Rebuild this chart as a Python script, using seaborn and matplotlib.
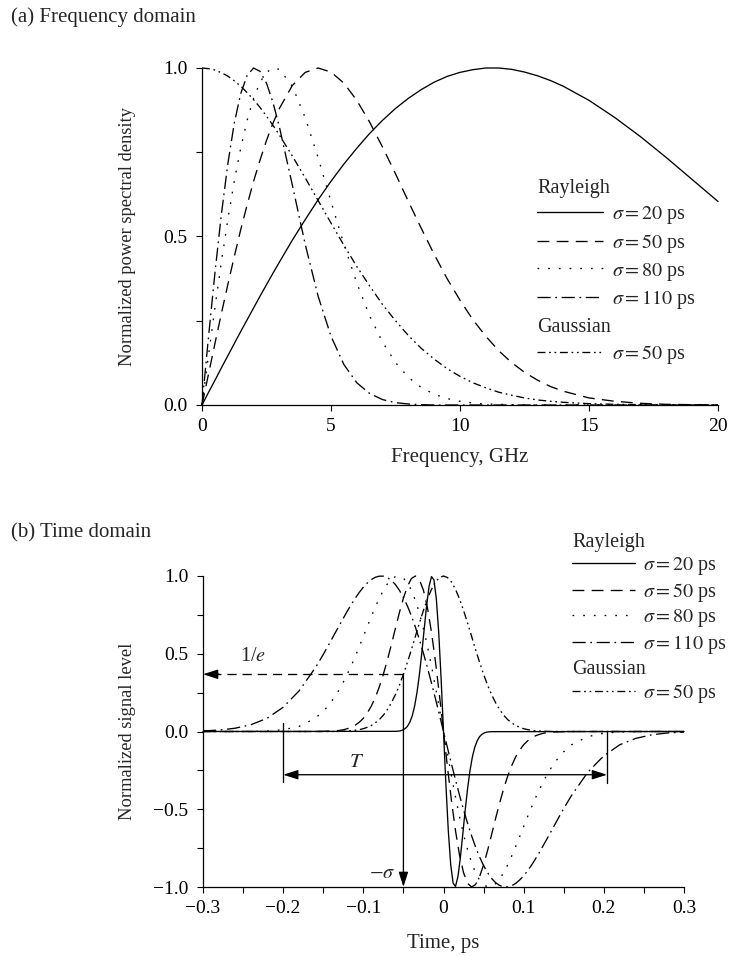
import matplotlib
matplotlib.use("Agg")
import matplotlib.pyplot as plt
from matplotlib.lines import Line2D
from matplotlib.ticker import FixedLocator, FixedFormatter
import seaborn as sns
import pandas as pd

# ---------------- data: (a) frequency domain ----------------
freq = [0, 0.25, 0.5, 0.75, 1, 1.25, 1.5, 1.75, 2, 2.25, 2.5, 2.75, 3,
        3.5, 4, 4.5, 5, 5.5, 6, 6.5, 7, 7.5, 8,
        8.5, 9, 9.5, 10, 10.5, 11, 11.5, 12, 12.5, 13, 13.5,
        14, 15, 16, 17, 18, 19, 20]
psd_r20 = [0, 0.037, 0.073, 0.110, 0.146, 0.182, 0.218, 0.253, 0.288, 0.323, 0.357, 0.391, 0.424,
           0.489, 0.550, 0.609, 0.664, 0.715, 0.762, 0.806, 0.845, 0.880, 0.910,
           0.936, 0.958, 0.975, 0.987, 0.995, 1.000, 1.000, 0.996, 0.988, 0.977, 0.963,
           0.946, 0.904, 0.853, 0.796, 0.734, 0.669, 0.604]
psd_r50 = [0, 0.091, 0.182, 0.271, 0.357, 0.440, 0.520, 0.594, 0.664, 0.727, 0.785, 0.836, 0.880,
           0.948, 0.987, 1.000, 0.988, 0.955, 0.904, 0.839, 0.765, 0.686, 0.604,
           0.524, 0.447, 0.375, 0.311, 0.253, 0.204, 0.161, 0.126, 0.097, 0.074, 0.055,
           0.041, 0.021, 0.011, 0.005, 0.002, 0.001, 0.000]
psd_r80 = [0, 0.146, 0.288, 0.424, 0.550, 0.664, 0.762, 0.845, 0.910, 0.958, 0.987, 1.000, 0.996,
           0.946, 0.853, 0.734, 0.604, 0.477, 0.362, 0.264, 0.186, 0.126, 0.082,
           0.052, 0.032, 0.019, 0.011, 0.006, 0.003, 0.002, 0.001, 0, 0, 0,
           0, 0, 0, 0, 0, 0, 0]
psd_r110 = [0, 0.200, 0.391, 0.565, 0.715, 0.836, 0.924, 0.978, 1.000, 0.990, 0.955, 0.898, 0.825,
            0.653, 0.477, 0.323, 0.204, 0.120, 0.066, 0.034, 0.016, 0.007, 0.003,
            0.001, 0, 0, 0, 0, 0, 0, 0, 0, 0, 0,
            0, 0, 0, 0, 0, 0, 0]
psd_g50 = [1.000, 0.998, 0.994, 0.986, 0.976, 0.962, 0.946, 0.927, 0.906, 0.883, 0.857, 0.830, 0.801,
           0.739, 0.674, 0.607, 0.540, 0.474, 0.411, 0.353, 0.298, 0.250, 0.206,
           0.168, 0.136, 0.108, 0.085, 0.066, 0.051, 0.038, 0.029, 0.021, 0.015, 0.011,
           0.008, 0.004, 0.002, 0.001, 0, 0, 0]

# ---------------- data: (b) time domain ----------------
time_r20 = [-0.300, -0.060, -0.057, -0.054, -0.051, -0.048, -0.045, -0.042, -0.039, -0.036, -0.033,
            -0.030, -0.027, -0.024, -0.021, -0.018, -0.015, -0.012, -0.009, -0.006, -0.003,
            0.000, 0.003, 0.006, 0.009, 0.012, 0.015, 0.018, 0.021, 0.024, 0.027, 0.030,
            0.033, 0.036, 0.039, 0.042, 0.045, 0.048, 0.051, 0.054, 0.057, 0.060, 0.300]
sig_r20 = [0, 0.001, 0.002, 0.004, 0.009, 0.018, 0.033, 0.060, 0.101, 0.164, 0.253,
           0.369, 0.509, 0.663, 0.813, 0.933, 0.996, 0.976, 0.857, 0.639, 0.342,
           0, -0.342, -0.639, -0.857, -0.976, -0.996, -0.933, -0.813, -0.663, -0.509, -0.369,
           -0.253, -0.164, -0.101, -0.060, -0.033, -0.018, -0.009, -0.004, -0.002, -0.001, 0]

time = [-0.30, -0.28, -0.26, -0.24, -0.22, -0.20, -0.18, -0.16,
        -0.150, -0.145, -0.140, -0.135, -0.130, -0.125, -0.120, -0.115, -0.110, -0.105,
        -0.100, -0.095, -0.090, -0.085, -0.080, -0.075, -0.070, -0.065, -0.060, -0.055,
        -0.050, -0.045, -0.040, -0.035, -0.030, -0.025, -0.020, -0.015, -0.010, -0.005,
        0.000,
        0.005, 0.010, 0.015, 0.020, 0.025, 0.030, 0.035, 0.040, 0.045, 0.050,
        0.055, 0.060, 0.065, 0.070, 0.075, 0.080, 0.085, 0.090, 0.095, 0.100,
        0.105, 0.110, 0.115, 0.120, 0.125, 0.130, 0.135, 0.140, 0.145, 0.150,
        0.16, 0.18, 0.20, 0.22, 0.24, 0.26, 0.28, 0.30]
sig_r50 = [0, 0, 0, 0, 0, 0, 0, 0,
           0.001, 0.002, 0.003, 0.004, 0.007, 0.011, 0.018, 0.027, 0.041, 0.060,
           0.085, 0.120, 0.164, 0.220, 0.288, 0.369, 0.460, 0.559, 0.663, 0.765,
           0.858, 0.933, 0.984, 1.000, 0.976, 0.908, 0.795, 0.639, 0.448, 0.231,
           0,
           -0.231, -0.448, -0.639, -0.795, -0.908, -0.976, -1.000, -0.984, -0.933, -0.858,
           -0.765, -0.663, -0.559, -0.460, -0.369, -0.288, -0.220, -0.164, -0.120, -0.085,
           -0.060, -0.041, -0.027, -0.018, -0.011, -0.007, -0.004, -0.003, -0.002, -0.001,
           0, 0, 0, 0, 0, 0, 0, 0]
sig_r80 = [0, 0, 0, 0.001, 0.003, 0.011, 0.033, 0.085,
           0.130, 0.158, 0.191, 0.228, 0.270, 0.317, 0.369, 0.424, 0.484, 0.546,
           0.611, 0.676, 0.740, 0.801, 0.858, 0.908, 0.949, 0.979, 0.996, 0.999,
           0.986, 0.956, 0.908, 0.842, 0.760, 0.661, 0.548, 0.422, 0.287, 0.145,
           0,
           -0.145, -0.287, -0.422, -0.548, -0.661, -0.760, -0.842, -0.908, -0.956, -0.986,
           -0.999, -0.996, -0.979, -0.949, -0.908, -0.858, -0.801, -0.740, -0.676, -0.611,
           -0.546, -0.484, -0.424, -0.369, -0.317, -0.270, -0.228, -0.191, -0.158, -0.130,
           -0.085, -0.033, -0.011, -0.003, -0.001, 0, 0, 0]
sig_r110 = [0.004, 0.009, 0.021, 0.044, 0.085, 0.156, 0.262, 0.409,
            0.495, 0.541, 0.588, 0.635, 0.682, 0.728, 0.774, 0.817, 0.858, 0.895,
            0.928, 0.955, 0.977, 0.992, 0.999, 0.999, 0.990, 0.972, 0.945, 0.908,
            0.862, 0.807, 0.743, 0.670, 0.590, 0.503, 0.410, 0.312, 0.210, 0.106,
            0,
            -0.106, -0.210, -0.312, -0.410, -0.503, -0.590, -0.670, -0.743, -0.807, -0.862,
            -0.908, -0.945, -0.972, -0.990, -0.999, -0.999, -0.992, -0.977, -0.955, -0.928,
            -0.895, -0.858, -0.817, -0.774, -0.728, -0.682, -0.635, -0.588, -0.541, -0.495,
            -0.409, -0.262, -0.156, -0.085, -0.044, -0.021, -0.009, -0.004]
sig_g50 = [0, 0, 0, 0, 0, 0, 0, 0,
           0, 0, 0, 0, 0.001, 0.002, 0.003, 0.005, 0.008, 0.012,
           0.018, 0.027, 0.039, 0.056, 0.077, 0.105, 0.141, 0.185, 0.237, 0.298,
           0.368, 0.445, 0.527, 0.613, 0.698, 0.779, 0.852, 0.914, 0.961, 0.990,
           1.000,
           0.990, 0.961, 0.914, 0.852, 0.779, 0.698, 0.613, 0.527, 0.445, 0.368,
           0.298, 0.237, 0.185, 0.141, 0.105, 0.077, 0.056, 0.039, 0.027, 0.018,
           0.012, 0.008, 0.005, 0.003, 0.002, 0.001, 0, 0, 0, 0,
           0, 0, 0, 0, 0, 0, 0, 0]

series_keys = ["r20", "r50", "r80", "r110", "g50"]
series_labels = [r"$\sigma = 20$ ps", r"$\sigma = 50$ ps", r"$\sigma = 80$ ps",
                 r"$\sigma = 110$ ps", r"$\sigma = 50$ ps"]

freq_ticks = [0, 5, 10, 15, 20]
freq_ticklabels = ["0", "5", "10", "15", "20"]
psd_ticks = [0.0, 0.5, 1.0]
psd_ticklabels = ["0.0", "0.5", "1.0"]
psd_minor = [0.25, 0.75]
time_ticks = [-0.3, -0.2, -0.1, 0.0, 0.1, 0.2, 0.3]
time_ticklabels = ["\u22120.3", "\u22120.2", "\u22120.1", "0", "0.1", "0.2", "0.3"]
time_minor = [-0.25, -0.15, -0.05, 0.05, 0.15, 0.25]
sig_ticks = [-1.0, -0.5, 0.0, 0.5, 1.0]
sig_ticklabels = ["\u22121.0", "\u22120.5", "0.0", "0.5", "1.0"]
sig_minor = [-0.75, -0.25, 0.25, 0.75]

# annotation quantities (panel b)
one_over_e = 0.368
minus_sigma = -0.05
T_left, T_right, T_level = -0.2, 0.204, -0.278

# ---------------- style ----------------
sns.set_theme(style="ticks")
plt.rcParams["font.family"] = ["Liberation Serif", "DejaVu Serif"]
plt.rcParams["mathtext.fontset"] = "stix"
plt.rcParams["axes.edgecolor"] = "black"
plt.rcParams["axes.linewidth"] = 0.9

LW = 0.95
dash_map = {"r20": "", "r50": (9, 5.5), "r80": (1.3, 6.8),
            "r110": (10, 3.5, 1.3, 3.5), "g50": (6, 2.8, 1.3, 2.8, 1.3, 2.8)}

FS_TICK = 14
FS_LEG = 14.5
FS_XLAB = 15
FS_YLAB = 13.3
FS_TITLE = 15

fig = plt.figure(figsize=(7.30, 9.56), dpi=100)
W, H = 730, 956


def ax_rect(l, t, r, b):
    return [l / W, 1 - b / H, (r - l) / W, (b - t) / H]


def long_df(xs, ys):
    frames = []
    for k, (x, y) in zip(series_keys, zip(xs, ys)):
        frames.append(pd.DataFrame({"x": x, "y": y, "series": k}))
    return pd.concat(frames, ignore_index=True)


def style_axes(ax):
    sns.despine(ax=ax)
    ax.tick_params(axis="both", which="both", direction="out", length=4.5, width=0.8,
                   colors="black", labelsize=FS_TICK)
    ax.tick_params(axis="y", which="both", pad=6)
    ax.tick_params(axis="x", which="both", pad=5)


def handle(k):
    if dash_map[k] == "":
        return Line2D([], [], color="black", lw=LW, linestyle="-")
    return Line2D([], [], color="black", lw=LW, dashes=dash_map[k])


def add_legends(ax, rx, ry, gy, hl, hp, ls):
    kw = dict(loc="upper left", bbox_transform=fig.transFigure, frameon=False,
              alignment="left", handlelength=hl, handletextpad=hp, labelspacing=ls,
              borderpad=0, borderaxespad=0, fontsize=FS_LEG, title_fontsize=FS_LEG)
    leg1 = ax.legend(handles=[handle(k) for k in series_keys[:4]], labels=series_labels[:4],
                     title="Rayleigh", bbox_to_anchor=(rx / W, 1 - ry / H), **kw)
    ax.add_artist(leg1)
    ax.legend(handles=[handle(series_keys[4])], labels=series_labels[4:],
              title="Gaussian", bbox_to_anchor=(rx / W, 1 - gy / H), **kw)


# ---------------- (a) frequency domain ----------------
ax1 = fig.add_axes(ax_rect(202, 68, 718, 405))
df_f = long_df([freq] * 5, [psd_r20, psd_r50, psd_r80, psd_r110, psd_g50])
sns.lineplot(data=df_f, x="x", y="y", style="series", dashes=dash_map, color="black",
             linewidth=LW, estimator=None, sort=False, legend=False, ax=ax1, clip_on=False)
ax1.set_xlim(0, 20)
ax1.set_ylim(0, 1)
ax1.xaxis.set_major_locator(FixedLocator(freq_ticks))
ax1.xaxis.set_major_formatter(FixedFormatter(freq_ticklabels))
ax1.yaxis.set_major_locator(FixedLocator(psd_ticks))
ax1.yaxis.set_major_formatter(FixedFormatter(psd_ticklabels))
ax1.yaxis.set_minor_locator(FixedLocator(psd_minor))
style_axes(ax1)
ax1.set_xlabel("Frequency, GHz", fontsize=FS_XLAB)
ax1.set_ylabel("Normalized power spectral density", fontsize=FS_YLAB)
ax1.xaxis.set_label_coords(0.5, -0.128)
ax1.yaxis.set_label_coords(-0.128, 0.5)
add_legends(ax1, 537, 179, 318, 3.3, 0.43, 0.29)

# ---------------- (b) time domain ----------------
ax2 = fig.add_axes(ax_rect(203, 576, 684, 887))
df_t = long_df([time_r20, time, time, time, time], [sig_r20, sig_r50, sig_r80, sig_r110, sig_g50])
sns.lineplot(data=df_t, x="x", y="y", style="series", dashes=dash_map, color="black",
             linewidth=LW, estimator=None, sort=False, legend=False, ax=ax2, clip_on=False)
ax2.set_xlim(-0.3, 0.3)
ax2.set_ylim(-1, 1)
ax2.xaxis.set_major_locator(FixedLocator(time_ticks))
ax2.xaxis.set_major_formatter(FixedFormatter(time_ticklabels))
ax2.xaxis.set_minor_locator(FixedLocator(time_minor))
ax2.yaxis.set_major_locator(FixedLocator(sig_ticks))
ax2.yaxis.set_major_formatter(FixedFormatter(sig_ticklabels))
ax2.yaxis.set_minor_locator(FixedLocator(sig_minor))
style_axes(ax2)
ax2.set_xlabel("Time, ps", fontsize=FS_XLAB)
ax2.set_ylabel("Normalized signal level", fontsize=FS_YLAB)
ax2.xaxis.set_label_coords(0.5, -0.15)
ax2.yaxis.set_label_coords(-0.14, 0.5)
add_legends(ax2, 572, 533, 660, 3.13, 0.38, 0.17)

# 1/e construction
ax2.plot([minus_sigma, -0.285], [one_over_e, one_over_e], color="black", lw=LW,
         dashes=(7, 4.5))
ax2.annotate("", xy=(-0.3, one_over_e), xytext=(-0.28, one_over_e),
             arrowprops=dict(arrowstyle="-|>,head_length=0.75,head_width=0.24",
                             color="black", lw=LW, shrinkA=0, shrinkB=0, mutation_scale=12))
ax2.annotate("", xy=(minus_sigma, -1.0), xytext=(minus_sigma, one_over_e),
             arrowprops=dict(arrowstyle="-|>,head_length=0.75,head_width=0.24",
                             color="black", lw=LW, shrinkA=0, shrinkB=0, mutation_scale=12))
ax2.text(-0.2376, 0.48, r"1/$e$", fontsize=FS_LEG, ha="center", va="center")
ax2.text(-0.076, -0.91, r"$-\sigma$", fontsize=FS_LEG, ha="center", va="center")

# T construction
ax2.plot([T_left, T_left], [0.055, -0.323], color="black", lw=LW)
ax2.plot([T_right, T_right], [0.0, -0.33], color="black", lw=LW)
ax2.annotate("", xy=(T_left, T_level), xytext=(T_right, T_level),
             arrowprops=dict(arrowstyle="<|-|>,head_length=0.75,head_width=0.24",
                             color="black", lw=LW, shrinkA=0, shrinkB=0, mutation_scale=12))
ax2.text(-0.108, -0.2, r"$T$", fontsize=FS_LEG + 0.5, ha="center", va="center")

# panel titles
fig.text(11 / W, 1 - 17 / H, "(a) Frequency domain", fontsize=FS_TITLE, ha="left", va="center")
fig.text(11 / W, 1 - 533 / H, "(b) Time domain", fontsize=FS_TITLE, ha="left", va="center")

fig.savefig("out.png", dpi=100, facecolor="white")
